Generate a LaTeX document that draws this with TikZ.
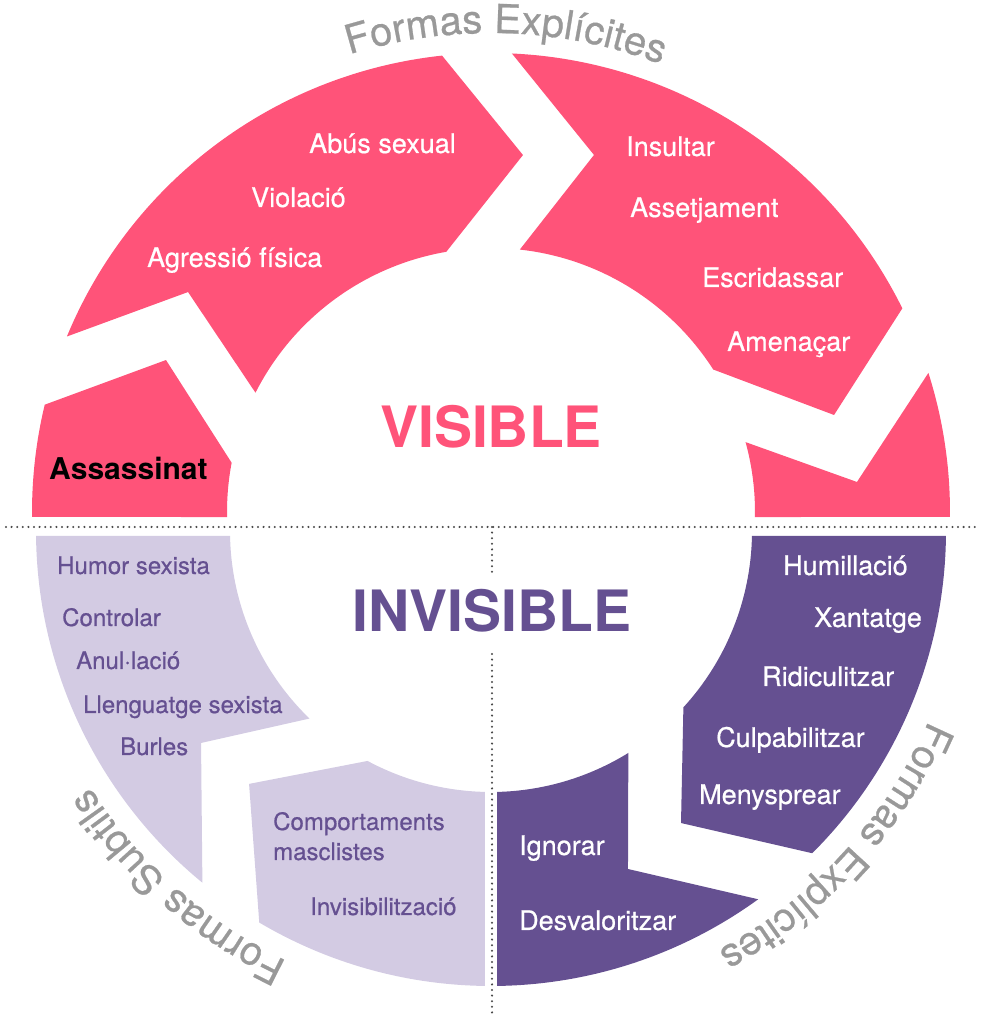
\documentclass[tikz,border=0pt]{standalone}
\usepackage{fontspec}
\setmainfont{TeX Gyre Heros}
\newfontfamily\gruixut{TeX Gyre Heros}[FakeBold=0.6]
\usetikzlibrary{decorations.text}
\definecolor{rosa}{HTML}{FF5379}
\definecolor{lila}{HTML}{655091}
\definecolor{lilaclar}{HTML}{D3CBE3}
\definecolor{gris}{HTML}{999999}
\definecolor{puntejat}{HTML}{4A4A4A}
\tikzset{
  trosvis/.style={fill=rosa},
  trosinv/.style={fill=lila},
  trossub/.style={fill=lilaclar},
  etiq/.style={anchor=base west, inner sep=0pt, text=white, font=\gruixut\fontsize{27}{30}\selectfont},
  etiqsub/.style={etiq, text=lila, font=\gruixut\fontsize{24}{27}\selectfont},
  titol/.style={anchor=base, inner sep=0pt, font=\fontsize{57}{60}\selectfont\bfseries},
  divisio/.style={draw=puntejat, line width=2.3pt, line cap=round, dash pattern=on 0pt off 5.6pt},
  forma/.style={decorate, decoration={text along path, text align=center, text color=gris, text={|\gruixut\fontsize{40}{40}\selectfont|#1}}}
}

\begin{document}
\begin{tikzpicture}[x=1pt, y=1pt]
  \useasboundingbox (0,0) rectangle (982,1017);
  \coordinate (ce) at (491,505);
  \coordinate (ci) at (491,486);

  % meitat visible
  \begin{scope}[shift={(ce)}]
    \fill[trosvis] (180.62:459) arc[start angle=180.62, end angle=166.48, radius=459]
      -- (154.94:358.8) -- (169.25:264) arc[start angle=169.25, end angle=181.09, radius=264] -- cycle;
    \fill[trosvis] (157.52:459) -- (144.02:374.4) -- (153.14:264)
      arc[start angle=153.14, end angle=99.75, radius=264] -- (84.88:358.4) -- (96.12:459)
      arc[start angle=96.12, end angle=157.52, radius=459] -- cycle;
    \fill[trosvis] (87.39:459) -- (73.91:371.6) -- (83.73:264)
      arc[start angle=83.73, end angle=32.67, radius=264] -- (15.79:356.5) -- (26.34:459)
      arc[start angle=26.34, end angle=87.39, radius=459] -- cycle;
    \fill[trosvis] (17.64:459) -- (4.69:367.2) -- (15.35:264)
      arc[start angle=15.35, end angle=-1.09, radius=264] -- (-0.62:459)
      arc[start angle=-0.62, end angle=17.64, radius=459] -- cycle;
    \path[forma={Formas Explícites}] (118.2:479) arc[start angle=118.2, end angle=58.2, radius=479];
  \end{scope}

  % meitat invisible
  \begin{scope}[shift={(ci)}]
    \fill[trosinv] (-0.63:455) arc[start angle=-0.63, end angle=-45.09, radius=455]
      -- (-56.95:348.4) -- (-42.51:261) arc[start angle=-42.51, end angle=-1.1, radius=261] -- cycle;
    \fill[trosinv] (-54.04:455) -- (-67.94:364.7) -- (-58.25:261)
      arc[start angle=-58.25, end angle=-88.68, radius=261] -- (-89.24:455)
      arc[start angle=-89.24, end angle=-54.04, radius=455] -- cycle;
    \fill[trossub] (-91.33:261) -- (-90.76:455) arc[start angle=-90.76, end angle=-120.62, radius=455]
      -- (-133.73:350) -- (-118.23:261) arc[start angle=-118.23, end angle=-91.33, radius=261] -- cycle;
    \fill[trossub] (-179.37:455) arc[start angle=-179.37, end angle=-129.37, radius=455]
      -- (-143.83:359.2) -- (-134.06:261) arc[start angle=-134.06, end angle=-178.9, radius=261] -- cycle;
    \path[forma={Formas Explícites}] (-12.5:477) arc[start angle=-12.5, end angle=-72.5, radius=477];
    \path[forma={Formas Subtils}] (-101.4:476) arc[start angle=-101.4, end angle=-161.4, radius=476];
  \end{scope}

  \node[etiq] (abus) at (309,864) {Abús sexual};
  \node[etiq] (violacio) at (251,810) {Violació};
  \node[etiq] (agressio) at (147,750) {Agressió física};
  \node[etiq, text=black, font=\fontsize{30}{33}\selectfont\bfseries] (assassinat) at (49,537) {Assassinat};
  \node[etiq] (insultar) at (626,861) {Insultar};
  \node[etiq] (assetjament) at (630,800) {Assetjament};
  \node[etiq] (escridassar) at (702,730) {Escridassar};
  \node[etiq] (amenacar) at (727,666) {Amenaçar};

  \node[etiq] (humillacio) at (783,442) {Humillació};
  \node[etiq] (xantatge) at (814,390) {Xantatge};
  \node[etiq] (ridiculitzar) at (762,331) {Ridiculitzar};
  \node[etiq] (culpabilitzar) at (716,270) {Culpabilitzar};
  \node[etiq] (menysprear) at (699,213) {Menysprear};
  \node[etiq] (ignorar) at (519,162) {Ignorar};
  \node[etiq] (desvaloritzar) at (519,87) {Desvaloritzar};

  \node[etiqsub] (humor) at (57,443) {Humor sexista};
  \node[etiqsub] (controlar) at (62,391) {Controlar};
  \node[etiqsub] (anulacio) at (76,348) {Anul·lació};
  \node[etiqsub] (llenguatge) at (83,304) {Llenguatge sexista};
  \node[etiqsub] (burles) at (120,262) {Burles};
  \node[etiqsub] (comportaments) at (273,187) {Comportaments};
  \node[etiqsub] (masclistes) at (273,157) {masclistes};
  \node[etiqsub] (invisibilitzacio) at (310,102) {Invisibilització};

  \node[titol, text=rosa] (visible) at (491,569) {VISIBLE};
  \node[titol, text=lila] (invisible) at (492,385) {INVISIBLE};

  \coordinate (hesq) at (6,490);
  \coordinate (hdre) at (977,490);
  \coordinate (vdalt) at (492,490);
  \coordinate (vtall) at (492,445);
  \coordinate (vrepren) at (492,363);
  \coordinate (vbaix) at (492,0);
  \draw[divisio] (hesq) -- (hdre);
  \draw[divisio] (vdalt) -- (vtall);
  \draw[divisio] (vrepren) -- (vbaix);
\end{tikzpicture}
\end{document}
